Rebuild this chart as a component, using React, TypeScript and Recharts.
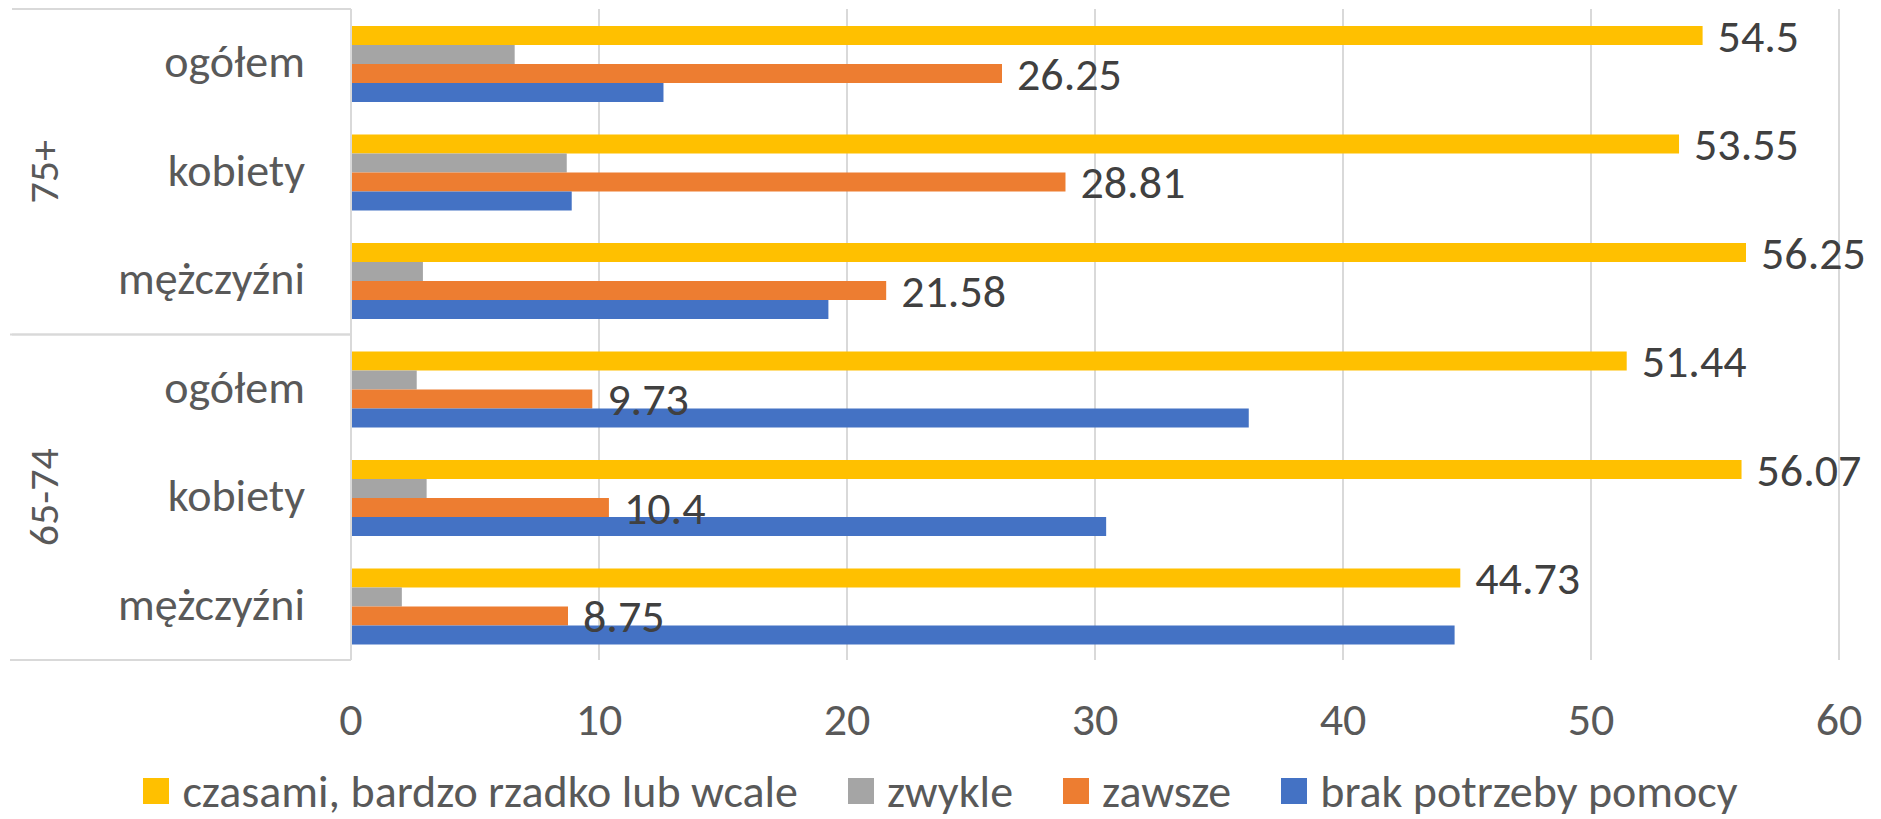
import React from 'react';
import { BarChart, Bar, XAxis, YAxis, CartesianGrid, Legend, LabelList } from 'recharts';

// age groups and sub-categories, top to bottom
const groups = ['75+', '75+', '75+', '65-74', '65-74', '65-74'];
const categories = ['ogółem', 'kobiety', 'mężczyźni', 'ogółem', 'kobiety', 'mężczyźni'];

const czasami = [54.5, 53.55, 56.25, 51.44, 56.07, 44.73];
const zwykle = [6.6, 8.7, 2.9, 2.65, 3.05, 2.05];
const zawsze = [26.25, 28.81, 21.58, 9.73, 10.4, 8.75];
const brak = [12.6, 8.9, 19.25, 36.2, 30.45, 44.5];

const xTicks = [0, 10, 20, 30, 40, 50, 60];

const seriesKeys = ['czasami', 'zwykle', 'zawsze', 'brak'];
const seriesNames = ['czasami, bardzo rzadko lub wcale', 'zwykle', 'zawsze', 'brak potrzeby pomocy'];
const seriesColors = ['#FFC000', '#A5A5A5', '#ED7D31', '#4472C4'];

const data = categories.map((name, i) => ({
  key: `${groups[i]}|${name}|${i}`,
  name,
  group: groups[i],
  czasami: czasami[i],
  zwykle: zwykle[i],
  zawsze: zawsze[i],
  brak: brak[i],
}));

const FONT = 'Carlito, Lato, "Liberation Sans", sans-serif';
const W = 1881;
const H = 819;
const MARGIN = { top: 9, right: 42, bottom: 99, left: 0 };
const Y_AXIS_W = 351;
const PLOT_H = H - MARGIN.top - MARGIN.bottom - 60;
const BAND = PLOT_H / categories.length;
const LINE = '#d9d9d9';

const CategoryTick = (props: any) => {
  const { y, payload } = props;
  const i = payload.index;
  const items: React.ReactNode[] = [];
  items.push(
    <text key="t" x={305} y={y} dy="0.3em" textAnchor="end" fontSize={46} fill="#595959" fontFamily={FONT}>
      {categories[i]}
    </text>
  );
  if (i === 0 || groups[i] !== groups[i - 1]) {
    items.push(<line key="top" x1={12} x2={Y_AXIS_W} y1={y - BAND / 2} y2={y - BAND / 2} stroke={LINE} strokeWidth={2} />);
  }
  if (i === categories.length - 1 || groups[i] !== groups[i + 1]) {
    items.push(<line key="bot" x1={10} x2={Y_AXIS_W} y1={y + BAND / 2} y2={y + BAND / 2} stroke={LINE} strokeWidth={2} />);
  }
  // group label at the middle item of each group
  if (i % 3 === 1) {
    items.push(
      <text
        key="g"
        x={58}
        y={y}
        textAnchor="middle"
        fontSize={42}
        fill="#595959"
        fontFamily={FONT}
        transform={`rotate(-90, 58, ${y})`}
      >
        {groups[i]}
      </text>
    );
  }
  return <g>{items}</g>;
};

const LegendContent = (props: any) => {
  const payload = [...(props.payload || [])].sort(
    (a: any, b: any) => seriesKeys.indexOf(a.dataKey) - seriesKeys.indexOf(b.dataKey)
  );
  return (
    <div style={{ display: 'flex', justifyContent: 'center', alignItems: 'center', height: 55, fontFamily: FONT, fontSize: 46, color: '#595959' }}>
      {payload.map((entry: any, i: number) => (
        <div key={i} style={{ display: 'flex', alignItems: 'center', marginLeft: i === 0 ? 0 : 50 }}>
          <span style={{ width: 26, height: 26, background: entry.color, display: 'inline-block', marginRight: 13 }} />
          <span style={{ whiteSpace: 'nowrap' }}>{entry.value}</span>
        </div>
      ))}
    </div>
  );
};

const valueLabel = { position: 'right' as const, offset: 15, fill: '#404040', fontSize: 46, fontFamily: FONT };

export default function App() {
  return (
    <div style={{ position: 'absolute', left: 0, top: 0, width: W, height: H, background: '#fff' }}>
      <BarChart width={W} height={H} data={data} layout="vertical" margin={MARGIN} barCategoryGap="15.7%" barGap={0}>
        <CartesianGrid horizontal={false} stroke={LINE} strokeWidth={2} />
        <XAxis
          type="number"
          domain={[0, 60]}
          ticks={xTicks}
          axisLine={false}
          tickLine={false}
          tickMargin={36}
          height={60}
          tick={{ fontSize: 46, fill: '#595959', fontFamily: FONT }}
        />
        <YAxis
          type="category"
          dataKey="key"
          width={Y_AXIS_W}
          axisLine={{ stroke: LINE, strokeWidth: 2 }}
          tickLine={false}
          tick={<CategoryTick />}
          interval={0}
        />
        <Legend
          layout="horizontal"
          verticalAlign="middle"
          align="center"
          itemSorter={null}
          content={<LegendContent />}
          wrapperStyle={{ top: 763, left: 0, width: W, height: 55 }}
        />
        {seriesKeys.map((k, s) => (
          <Bar key={k} dataKey={k} name={seriesNames[s]} fill={seriesColors[s]} isAnimationActive={false}>
            {(k === 'czasami' || k === 'zawsze') && <LabelList dataKey={k} {...valueLabel} />}
          </Bar>
        ))}
      </BarChart>
    </div>
  );
}
